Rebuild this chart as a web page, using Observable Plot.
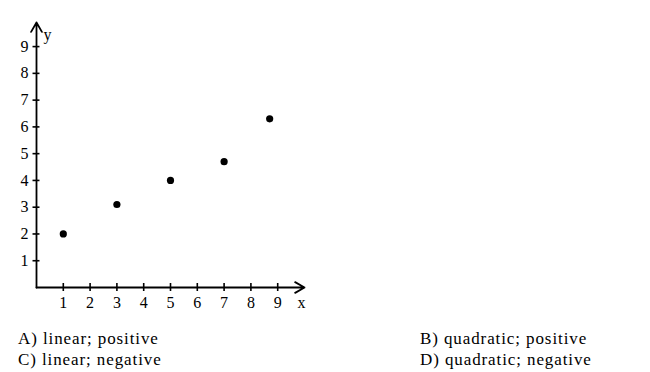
<!DOCTYPE html>
<html>
<head>
<meta charset="utf-8">
<script src="https://cdn.jsdelivr.net/npm/d3@7"></script>
<script src="https://cdn.jsdelivr.net/npm/@observablehq/plot@0.6"></script>
<style>
  body { margin: 0; background: #fff; font-family: "Liberation Serif", serif; }
  #wrap { width: 650px; }
  .opts { position: relative; height: 50px; font-size: 17px; letter-spacing: 0.9px; color: #000; }
  .opts div { position: absolute; white-space: nowrap; line-height: 21px; }
</style>
</head>
<body>
<div id="wrap">
  <div id="chart"></div>
  <div class="opts">
    <div style="left:18px;top:6px">A) linear; positive</div>
    <div style="left:420px;top:6px">B) quadratic; positive</div>
    <div style="left:18px;top:27px">C) linear; negative</div>
    <div style="left:420px;top:27px">D) quadratic; negative</div>
  </div>
</div>
<script>
const xValues = [1, 3, 5, 7, 8.7];
const yValues = [2.0, 3.1, 4.0, 4.7, 6.3];
const xTicks = [1, 2, 3, 4, 5, 6, 7, 8, 9];
const yTicks = [1, 2, 3, 4, 5, 6, 7, 8, 9];
const xLabel = "x";
const yLabel = "y";

const points = xValues.map((x, i) => ({x, y: yValues[i]}));
const font = "Liberation Serif";

const chart = Plot.plot({
  width: 650,
  height: 322,
  x: {domain: [0, 10], range: [36, 304], axis: null},
  y: {domain: [0, 9.9], range: [287, 22], axis: null},
  style: {fontFamily: font, fontSize: "16px", color: "#000", background: "#fff"},
  marks: [
    Plot.arrow([{x1: 0, y1: 0, x2: 10, y2: 0}], {x1: "x1", y1: "y1", x2: "x2", y2: "y2", stroke: "#000", strokeWidth: 1.8, headLength: 9}),
    Plot.arrow([{x1: 0, y1: 0, x2: 0, y2: 9.9}], {x1: "x1", y1: "y1", x2: "x2", y2: "y2", stroke: "#000", strokeWidth: 1.8, headLength: 9}),
    Plot.ruleX(xTicks, {x: d => d, y1: -0.15, y2: 0.15, stroke: "#000", strokeWidth: 1.6}),
    Plot.ruleY(yTicks, {y: d => d, x1: -0.13, x2: 0.13, stroke: "#000", strokeWidth: 1.6}),
    Plot.text(xTicks, {x: d => d, y: 0, text: d => String(d), dy: 15, fill: "#000", fontSize: 16}),
    Plot.text(yTicks, {x: 0, y: d => d, text: d => String(d), dx: -8, textAnchor: "end", fill: "#000", fontSize: 16}),
    Plot.text([xLabel], {x: 10, y: 0, text: d => d, dx: -3, dy: 15, fill: "#000", fontSize: 16}),
    Plot.text([yLabel], {x: 0, y: 9.9, text: d => d, dx: 11, dy: 12, fill: "#000", fontSize: 16}),
    Plot.dot(points, {x: "x", y: "y", r: 3.6, fill: "#000", stroke: "none"})
  ]
});
document.getElementById("chart").appendChild(chart);
</script>
</body>
</html>
